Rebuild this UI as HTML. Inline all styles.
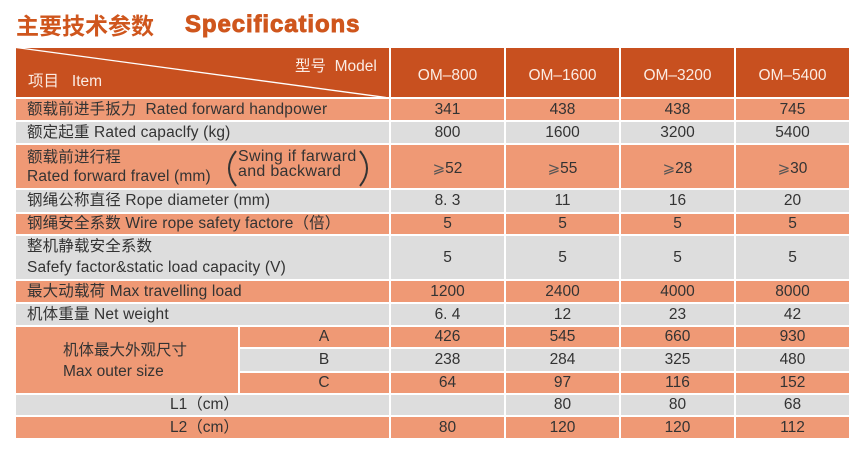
<!DOCTYPE html>
<html><head><meta charset="utf-8">
<style>
html,body{margin:0;padding:0;background:#fff;}
body{width:868px;height:455px;position:relative;overflow:hidden;font-family:"Liberation Sans","Noto Sans CJK SC",sans-serif;}
.b{position:absolute;}
.h{background:#c8501f;}
.o{background:#ef9975;}
.g{background:#dddddd;}
.t{position:absolute;height:20px;line-height:20px;font-size:15.5px;color:#333;white-space:nowrap;}
.l{letter-spacing:0.15px;}
.c{text-align:center;}
.w{color:#fbece4;}
.ge{font-family:"DejaVu Sans","Liberation Sans",sans-serif;font-size:15px;color:#555;}
</style></head><body>

<!-- title -->
<div class="b" style="left:16px;top:9px;height:30px;line-height:30px;font-size:23px;font-weight:bold;color:#cf561d;font-family:'Noto Sans CJK SC',sans-serif;">主要技术参数</div>
<div class="b" style="left:185px;top:10px;height:30px;line-height:30px;font-size:24px;font-weight:bold;letter-spacing:0.9px;color:#cf561d;-webkit-text-stroke:0.9px #cf561d;">Specifications</div>

<!-- header row -->
<div class="b h" style="left:16px;top:48px;width:373px;height:49px;"></div>
<div class="b h" style="left:391px;top:48px;width:113px;height:49px;"></div>
<div class="b h" style="left:506px;top:48px;width:113px;height:49px;"></div>
<div class="b h" style="left:621px;top:48px;width:113px;height:49px;"></div>
<div class="b h" style="left:736px;top:48px;width:113px;height:49px;"></div>
<svg class="b" style="left:0;top:0;" width="868" height="455"><line x1="16" y1="47.5" x2="386" y2="97.5" stroke="#fff" stroke-width="1.3"/></svg>
<div class="t w" style="left:295px;top:57px;">型号&nbsp;&nbsp;Model</div>
<div class="t w" style="left:28px;top:72px;">项目&nbsp;&nbsp;&nbsp;Item</div>
<div class="t w c" style="left:391px;top:66px;width:113px;">OM–800</div>
<div class="t w c" style="left:506px;top:66px;width:113px;">OM–1600</div>
<div class="t w c" style="left:621px;top:66px;width:113px;">OM–3200</div>
<div class="t w c" style="left:736px;top:66px;width:113px;">OM–5400</div>

<!-- r1 -->
<div class="b o" style="left:16px;top:99px;width:373px;height:21px;"></div>
<div class="b o" style="left:391px;top:99px;width:113px;height:21px;"></div>
<div class="b o" style="left:506px;top:99px;width:113px;height:21px;"></div>
<div class="b o" style="left:621px;top:99px;width:113px;height:21px;"></div>
<div class="b o" style="left:736px;top:99px;width:113px;height:21px;"></div>
<!-- r2 -->
<div class="b g" style="left:16px;top:122px;width:373px;height:21px;"></div>
<div class="b g" style="left:391px;top:122px;width:113px;height:21px;"></div>
<div class="b g" style="left:506px;top:122px;width:113px;height:21px;"></div>
<div class="b g" style="left:621px;top:122px;width:113px;height:21px;"></div>
<div class="b g" style="left:736px;top:122px;width:113px;height:21px;"></div>
<!-- r3 -->
<div class="b o" style="left:16px;top:145px;width:373px;height:43px;"></div>
<div class="b o" style="left:391px;top:145px;width:113px;height:43px;"></div>
<div class="b o" style="left:506px;top:145px;width:113px;height:43px;"></div>
<div class="b o" style="left:621px;top:145px;width:113px;height:43px;"></div>
<div class="b o" style="left:736px;top:145px;width:113px;height:43px;"></div>
<!-- r4 -->
<div class="b g" style="left:16px;top:190px;width:373px;height:22px;"></div>
<div class="b g" style="left:391px;top:190px;width:113px;height:22px;"></div>
<div class="b g" style="left:506px;top:190px;width:113px;height:22px;"></div>
<div class="b g" style="left:621px;top:190px;width:113px;height:22px;"></div>
<div class="b g" style="left:736px;top:190px;width:113px;height:22px;"></div>
<!-- r5 -->
<div class="b o" style="left:16px;top:214px;width:373px;height:20px;"></div>
<div class="b o" style="left:391px;top:214px;width:113px;height:20px;"></div>
<div class="b o" style="left:506px;top:214px;width:113px;height:20px;"></div>
<div class="b o" style="left:621px;top:214px;width:113px;height:20px;"></div>
<div class="b o" style="left:736px;top:214px;width:113px;height:20px;"></div>
<!-- r6 -->
<div class="b g" style="left:16px;top:236px;width:373px;height:43px;"></div>
<div class="b g" style="left:391px;top:236px;width:113px;height:43px;"></div>
<div class="b g" style="left:506px;top:236px;width:113px;height:43px;"></div>
<div class="b g" style="left:621px;top:236px;width:113px;height:43px;"></div>
<div class="b g" style="left:736px;top:236px;width:113px;height:43px;"></div>
<!-- r7 -->
<div class="b o" style="left:16px;top:281px;width:373px;height:21px;"></div>
<div class="b o" style="left:391px;top:281px;width:113px;height:21px;"></div>
<div class="b o" style="left:506px;top:281px;width:113px;height:21px;"></div>
<div class="b o" style="left:621px;top:281px;width:113px;height:21px;"></div>
<div class="b o" style="left:736px;top:281px;width:113px;height:21px;"></div>
<!-- r8 -->
<div class="b g" style="left:16px;top:304px;width:373px;height:21px;"></div>
<div class="b g" style="left:391px;top:304px;width:113px;height:21px;"></div>
<div class="b g" style="left:506px;top:304px;width:113px;height:21px;"></div>
<div class="b g" style="left:621px;top:304px;width:113px;height:21px;"></div>
<div class="b g" style="left:736px;top:304px;width:113px;height:21px;"></div>
<!-- size block -->
<div class="b o" style="left:16px;top:327px;width:222px;height:66px;"></div>
<!-- A -->
<div class="b o" style="left:240px;top:327px;width:149px;height:20px;"></div>
<div class="b o" style="left:391px;top:327px;width:113px;height:20px;"></div>
<div class="b o" style="left:506px;top:327px;width:113px;height:20px;"></div>
<div class="b o" style="left:621px;top:327px;width:113px;height:20px;"></div>
<div class="b o" style="left:736px;top:327px;width:113px;height:20px;"></div>
<!-- B -->
<div class="b g" style="left:240px;top:349px;width:149px;height:22px;"></div>
<div class="b g" style="left:391px;top:349px;width:113px;height:22px;"></div>
<div class="b g" style="left:506px;top:349px;width:113px;height:22px;"></div>
<div class="b g" style="left:621px;top:349px;width:113px;height:22px;"></div>
<div class="b g" style="left:736px;top:349px;width:113px;height:22px;"></div>
<!-- C -->
<div class="b o" style="left:240px;top:373px;width:149px;height:20px;"></div>
<div class="b o" style="left:391px;top:373px;width:113px;height:20px;"></div>
<div class="b o" style="left:506px;top:373px;width:113px;height:20px;"></div>
<div class="b o" style="left:621px;top:373px;width:113px;height:20px;"></div>
<div class="b o" style="left:736px;top:373px;width:113px;height:20px;"></div>
<!-- L1 -->
<div class="b g" style="left:16px;top:395px;width:373px;height:20px;"></div>
<div class="b g" style="left:391px;top:395px;width:113px;height:20px;"></div>
<div class="b g" style="left:506px;top:395px;width:113px;height:20px;"></div>
<div class="b g" style="left:621px;top:395px;width:113px;height:20px;"></div>
<div class="b g" style="left:736px;top:395px;width:113px;height:20px;"></div>
<!-- L2 -->
<div class="b o" style="left:16px;top:417px;width:373px;height:21px;"></div>
<div class="b o" style="left:391px;top:417px;width:113px;height:21px;"></div>
<div class="b o" style="left:506px;top:417px;width:113px;height:21px;"></div>
<div class="b o" style="left:621px;top:417px;width:113px;height:21px;"></div>
<div class="b o" style="left:736px;top:417px;width:113px;height:21px;"></div>

<!-- left column texts -->
<div class="t l" style="left:27px;top:100px;">额载前进手扳力&nbsp;&nbsp;Rated forward handpower</div>
<div class="t l" style="left:27px;top:123px;">额定起重 Rated capaclfy (kg)</div>
<div class="t l" style="left:27px;top:148px;">额载前进行程</div>
<div class="t l" style="left:27px;top:167px;">Rated forward fravel (mm)</div>
<svg class="b" style="left:0;top:0;" width="868" height="455">
<path d="M236 151 Q222 168.5 236 186" fill="none" stroke="#333" stroke-width="2"/>
<path d="M360 151 Q374 168.5 360 186" fill="none" stroke="#333" stroke-width="2"/>
</svg>
<div class="t" style="left:238px;top:149px;height:16px;line-height:16px;font-size:16px;letter-spacing:0.3px;">Swing if farward</div>
<div class="t" style="left:238px;top:164px;height:16px;line-height:16px;font-size:16px;letter-spacing:0.3px;">and backward</div>
<div class="t l" style="left:27px;top:191px;">钢绳公称直径 Rope diameter (mm)</div>
<div class="t l" style="left:27px;top:214px;">钢绳安全系数 Wire rope safety factore（倍）</div>
<div class="t l" style="left:27px;top:237px;">整机静载安全系数</div>
<div class="t l" style="left:27px;top:258px;">Safefy factor&amp;static load capacity (V)</div>
<div class="t l" style="left:27px;top:282px;">最大动载荷 Max travelling load</div>
<div class="t l" style="left:27px;top:305px;">机体重量 Net weight</div>
<div class="t" style="left:63px;top:341px;">机体最大外观尺寸</div>
<div class="t" style="left:63px;top:362px;">Max outer size</div>
<div class="t c" style="left:300px;top:327px;width:48px;">A</div>
<div class="t c" style="left:300px;top:350px;width:48px;">B</div>
<div class="t c" style="left:300px;top:373px;width:48px;">C</div>
<div class="t" style="left:170px;top:395px;">L1（cm）</div>
<div class="t" style="left:170px;top:418px;">L2（cm）</div>

<!-- values -->
<div class="t c" style="left:391px;top:100px;width:113px;">341</div>
<div class="t c" style="left:506px;top:100px;width:113px;">438</div>
<div class="t c" style="left:621px;top:100px;width:113px;">438</div>
<div class="t c" style="left:736px;top:100px;width:113px;">745</div>

<div class="t c" style="left:391px;top:123px;width:113px;">800</div>
<div class="t c" style="left:506px;top:123px;width:113px;">1600</div>
<div class="t c" style="left:621px;top:123px;width:113px;">3200</div>
<div class="t c" style="left:736px;top:123px;width:113px;">5400</div>

<div class="t c" style="left:391px;top:158px;width:113px;"><span class="ge">⩾</span>52</div>
<div class="t c" style="left:506px;top:158px;width:113px;"><span class="ge">⩾</span>55</div>
<div class="t c" style="left:621px;top:158px;width:113px;"><span class="ge">⩾</span>28</div>
<div class="t c" style="left:736px;top:158px;width:113px;"><span class="ge">⩾</span>30</div>

<div class="t c" style="left:391px;top:191px;width:113px;">8. 3</div>
<div class="t c" style="left:506px;top:191px;width:113px;">11</div>
<div class="t c" style="left:621px;top:191px;width:113px;">16</div>
<div class="t c" style="left:736px;top:191px;width:113px;">20</div>

<div class="t c" style="left:391px;top:214px;width:113px;">5</div>
<div class="t c" style="left:506px;top:214px;width:113px;">5</div>
<div class="t c" style="left:621px;top:214px;width:113px;">5</div>
<div class="t c" style="left:736px;top:214px;width:113px;">5</div>

<div class="t c" style="left:391px;top:248px;width:113px;">5</div>
<div class="t c" style="left:506px;top:248px;width:113px;">5</div>
<div class="t c" style="left:621px;top:248px;width:113px;">5</div>
<div class="t c" style="left:736px;top:248px;width:113px;">5</div>

<div class="t c" style="left:391px;top:282px;width:113px;">1200</div>
<div class="t c" style="left:506px;top:282px;width:113px;">2400</div>
<div class="t c" style="left:621px;top:282px;width:113px;">4000</div>
<div class="t c" style="left:736px;top:282px;width:113px;">8000</div>

<div class="t c" style="left:391px;top:305px;width:113px;">6. 4</div>
<div class="t c" style="left:506px;top:305px;width:113px;">12</div>
<div class="t c" style="left:621px;top:305px;width:113px;">23</div>
<div class="t c" style="left:736px;top:305px;width:113px;">42</div>

<div class="t c" style="left:391px;top:327px;width:113px;">426</div>
<div class="t c" style="left:506px;top:327px;width:113px;">545</div>
<div class="t c" style="left:621px;top:327px;width:113px;">660</div>
<div class="t c" style="left:736px;top:327px;width:113px;">930</div>

<div class="t c" style="left:391px;top:350px;width:113px;">238</div>
<div class="t c" style="left:506px;top:350px;width:113px;">284</div>
<div class="t c" style="left:621px;top:350px;width:113px;">325</div>
<div class="t c" style="left:736px;top:350px;width:113px;">480</div>

<div class="t c" style="left:391px;top:373px;width:113px;">64</div>
<div class="t c" style="left:506px;top:373px;width:113px;">97</div>
<div class="t c" style="left:621px;top:373px;width:113px;">116</div>
<div class="t c" style="left:736px;top:373px;width:113px;">152</div>

<div class="t c" style="left:506px;top:395px;width:113px;">80</div>
<div class="t c" style="left:621px;top:395px;width:113px;">80</div>
<div class="t c" style="left:736px;top:395px;width:113px;">68</div>

<div class="t c" style="left:391px;top:418px;width:113px;">80</div>
<div class="t c" style="left:506px;top:418px;width:113px;">120</div>
<div class="t c" style="left:621px;top:418px;width:113px;">120</div>
<div class="t c" style="left:736px;top:418px;width:113px;">112</div>

</body></html>
